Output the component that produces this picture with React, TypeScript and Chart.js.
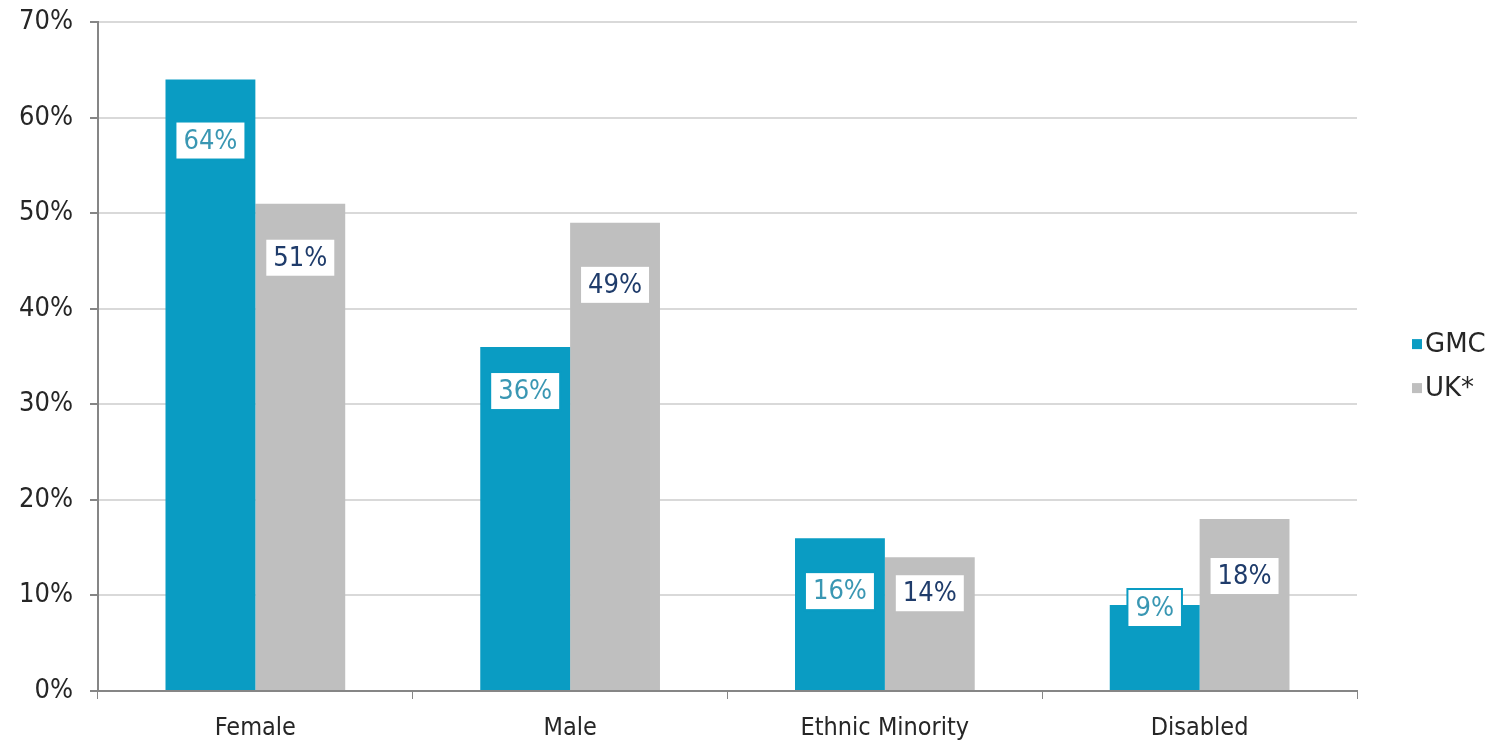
import React, { useEffect, useRef } from "react";
import { Chart, registerables } from "chart.js";

Chart.register(...registerables);

const categories = ["Female", "Male", "Ethnic Minority", "Disabled"];
const gmcValues = [64, 36, 16, 9];
const ukValues = [51, 49, 14, 18];
const seriesNames = ["GMC", "UK*"];
const yTicks = [0, 10, 20, 30, 40, 50, 60, 70];

const FONT = "Tahoma, 'DejaVu Sans Condensed', 'DejaVu Sans', sans-serif";
const LEGEND_FONT = "'DejaVu Sans', sans-serif";
const TEAL = "#0a9cc3";
const GREY = "#bfbfbf";

// Vertical drop (px) from each bar's top to the centre of its value box
const labelDrop = [
  [61, 44, 53, 3],
  [54, 62, 36, 57],
];
const labelTextColors = ["#3a97b3", "#1f3c6b"];

const valueBoxes = {
  id: "valueBoxes",
  afterDatasetsDraw(chart: any) {
    const ctx = chart.ctx;
    ctx.save();
    ctx.font = `27px ${FONT}`;
    ctx.textAlign = "center";
    ctx.textBaseline = "middle";
    chart.data.datasets.forEach((ds: any, di: number) => {
      const meta = chart.getDatasetMeta(di);
      meta.data.forEach((bar: any, i: number) => {
        const text = `${ds.data[i]}%`;
        const w = ctx.measureText(text).width + 16;
        const h = 38;
        const cx = bar.x;
        const cy = bar.y + labelDrop[di][i];
        ctx.fillStyle = "#ffffff";
        ctx.fillRect(cx - w / 2, cy - h / 2, w, h);
        ctx.strokeStyle = ds.backgroundColor;
        ctx.lineWidth = 2;
        ctx.strokeRect(cx - w / 2, cy - h / 2, w, h);
        ctx.fillStyle = labelTextColors[di];
        ctx.fillText(text, cx, cy + 1);
      });
    });
    ctx.restore();
  },
};

const sideLegend = {
  id: "sideLegend",
  afterDraw(chart: any) {
    const ctx = chart.ctx;
    const area = chart.chartArea;
    const midY = (area.top + area.bottom) / 2;
    ctx.save();
    ctx.font = `26px ${LEGEND_FONT}`;
    ctx.textAlign = "left";
    ctx.textBaseline = "middle";
    chart.data.datasets.forEach((ds: any, di: number) => {
      const y = midY - 12.5 + di * 44;
      const x = area.right + 55;
      ctx.fillStyle = ds.backgroundColor;
      ctx.fillRect(x, y - 5, 10, 10);
      ctx.fillStyle = "#262626";
      ctx.fillText(ds.label, x + 13, y + 1);
    });
    ctx.restore();
  },
};

export default function App() {
  const ref = useRef<HTMLCanvasElement | null>(null);

  useEffect(() => {
    if (!ref.current) return;
    const chart = new Chart(ref.current, {
      type: "bar",
      data: {
        labels: categories,
        datasets: [
          { label: seriesNames[0], data: gmcValues, backgroundColor: TEAL },
          { label: seriesNames[1], data: ukValues, backgroundColor: GREY },
        ],
      },
      options: {
        animation: false,
        responsive: false,
        maintainAspectRatio: false,
        layout: { padding: { top: 0, right: 140, bottom: 0, left: 2 } },
        datasets: {
          bar: { categoryPercentage: 0.571, barPercentage: 1 },
        },
        plugins: {
          legend: { display: false },
          tooltip: { enabled: false },
        },
        scales: {
          x: {
            grid: {
              display: true,
              drawOnChartArea: false,
              drawTicks: true,
              tickLength: 8,
              color: "#868686",
              offset: true,
            },
            border: { display: true, color: "#868686", width: 2 },
            ticks: {
              color: "#262626",
              padding: 14,
              font: { family: FONT, size: 25 },
            },
          },
          y: {
            min: 0,
            max: 70,
            afterBuildTicks(axis: any) {
              axis.ticks = yTicks.map((v) => ({ value: v }));
            },
            grid: {
              color: "#d9d9d9",
              lineWidth: 2,
              tickLength: 8,
              tickColor: "#868686",
            },
            border: { display: true, color: "#868686", width: 2 },
            ticks: {
              color: "#262626",
              padding: 17,
              font: { family: FONT, size: 27 },
              callback: (v: any) => `${v}%`,
            },
          },
        },
      },
      plugins: [valueBoxes, sideLegend],
    });
    return () => chart.destroy();
  }, []);

  return (
    <div
      style={{
        position: "fixed",
        left: 0,
        top: 0,
        width: 1497,
        height: 744,
        overflow: "hidden",
        background: "#fff",
      }}
    >
      <canvas
        ref={ref}
        width={1497}
        height={768}
        style={{ position: "absolute", left: 0, top: -11 }}
      />
    </div>
  );
}
